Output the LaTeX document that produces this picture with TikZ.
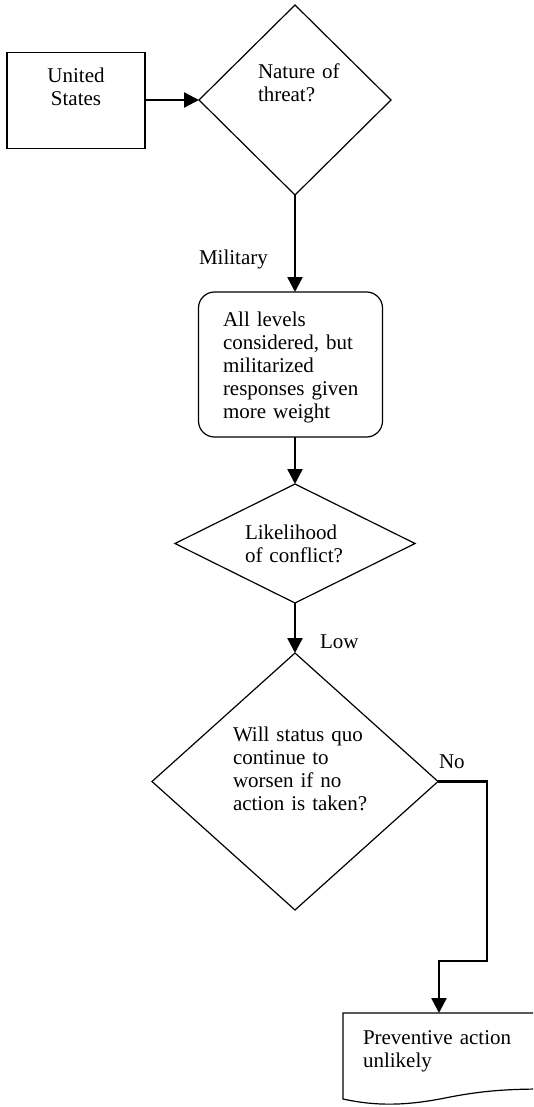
\documentclass[tikz,border=0pt]{standalone}
\usepackage{fontspec}
\setmainfont{Liberation Serif}
\usetikzlibrary{shapes.geometric,arrows.meta}
\begin{document}
\begin{tikzpicture}[x=1pt,y=-1pt,
  shapeline/.style={draw=black,line width=1.2pt,inner sep=0pt,outer sep=0pt},
  decision/.style={shapeline,diamond},
  conn/.style={draw=black,line width=2.4pt,-{Triangle[length=15pt,width=15pt]}},
  txt/.style={anchor=base west,inner sep=0pt,outer sep=0pt,text width=200pt,align=left,
    font=\fontsize{21}{23}\selectfont},
  lbl/.style={anchor=base west,inner sep=0pt,outer sep=0pt,font=\fontsize{21}{23}\selectfont}]
\useasboundingbox (0,0) rectangle (533,1107);
\clip (0,0) rectangle (533,1107);
% shapes
\node[shapeline,rectangle,minimum width=138pt,minimum height=96pt] (us) at (76,100.5) {};
\node[decision,minimum width=192pt,minimum height=190pt] (d1) at (295,100) {};
\node[shapeline,rectangle,rounded corners=16pt,minimum width=184pt,minimum height=145pt] (rb) at (290.5,364.5) {};
\node[decision,minimum width=240pt,minimum height=119pt] (d2) at (295,543.5) {};
\node[decision,minimum width=286pt,minimum height=257pt] (d3) at (295,781.5) {};
\draw[line width=1.2pt] (343,1013) -- (343,1099)
  .. controls (375,1106) and (405,1106) .. (445,1098)
  .. controls (480,1091) and (505,1089) .. (545,1089) -- (545,1013) -- cycle;
\coordinate (doctop) at (439,1013);
\coordinate (k1) at (487,961);
% texts
\node[txt,text width=100pt,align=center] (t0) at (26,83) {United\\States};
\node[txt] (t1) at (258,79) {Nature of\\threat?};
\node[lbl] (t2) at (199,264) {Military};
\node[txt] (t3) at (223,326) {All levels\\considered, but\\militarized\\responses given\\more weight};
\node[txt] (t4) at (245,539) {Likelihood\\of conflict?};
\node[lbl] (t5) at (320,648) {Low};
\node[txt] (t6) at (233,741) {Will status quo\\continue to\\worsen if no\\action is taken?};
\node[lbl] (t7) at (439,768) {No};
\node[txt] (t8) at (363,1044) {Preventive action\\unlikely};
% connectors
\draw[conn] (us.east |- d1.west) -- (d1.west);
\draw[conn] (d1.south) -- (d1.south |- rb.north);
\draw[conn] (d2.north |- rb.south) -- (d2.north);
\draw[conn] (d2.south) -- (d3.north);
\draw[conn] (d3.east) -| (k1) -| (doctop);
\end{tikzpicture}
\end{document}
